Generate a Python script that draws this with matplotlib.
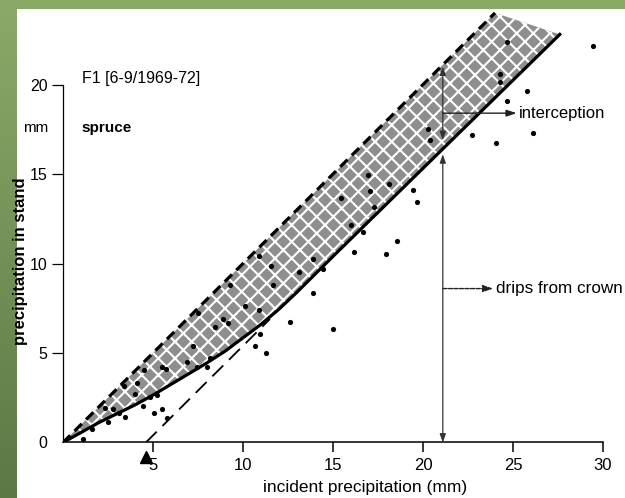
import numpy as np
import matplotlib
matplotlib.use("Agg")
import matplotlib.pyplot as plt
from matplotlib.patches import Rectangle, Polygon

plt.rcParams['font.family'] = ['Liberation Sans', 'DejaVu Sans']
plt.rcParams['hatch.linewidth'] = 1.5

# ---- data ----
incident = [1.13, 1.63, 2.52, 3.44, 3.13, 2.80, 2.33, 4.46, 5.07, 5.52, 5.76, 4.83, 5.20,
            4.00, 4.13, 3.39, 4.52, 5.48, 5.72, 6.87, 7.24, 7.43, 7.98, 8.17, 7.52, 8.44,
            8.91, 9.15, 9.28, 10.11, 10.67, 10.94, 11.28, 10.90, 11.65, 11.54, 10.89, 12.61,
            13.13, 13.91, 13.91, 14.46, 15.02, 15.43, 15.98, 16.65, 16.17, 16.96, 17.06, 17.28,
            18.13, 19.46, 19.68, 18.54, 17.94, 20.26, 20.39, 22.70, 24.06, 26.09, 24.65, 24.28,
            24.30, 29.46, 25.76, 24.65]
in_stand = [0.18, 0.74, 1.16, 1.44, 1.63, 1.85, 1.91, 2.04, 1.63, 1.85, 1.35, 2.56, 2.65,
            2.71, 3.34, 3.16, 4.05, 4.24, 4.09, 4.51, 5.39, 4.20, 4.24, 4.70, 7.22, 6.47,
            6.90, 6.66, 8.80, 7.63, 5.39, 6.06, 5.02, 7.40, 8.80, 9.86, 10.42, 6.75,
            9.54, 10.23, 8.37, 9.68, 6.32, 13.64, 12.15, 11.74, 10.63, 14.94, 14.07, 13.14,
            14.44, 14.11, 13.45, 11.26, 10.53, 17.51, 16.90, 17.18, 16.71, 17.31, 22.39, 20.60,
            20.16, 22.15, 19.64, 19.08]

upper_x = [0.0, 24.0]          # 1:1 line (no interception)
upper_y = [0.0, 24.0]
curve_x = [0, 2, 4, 5, 6, 7, 8, 9, 10, 11, 12, 13, 14, 15, 27.6]
curve_y = [0, 1.12, 2.10, 2.65, 3.25, 3.85, 4.45, 5.10, 5.85, 6.60, 7.45, 8.40, 9.40, 10.40, 22.8]
offset_x = [4.6, 11.5]         # parallel line starting at threshold
offset_y = [0.0, 6.9]
threshold = 4.6
arrow_x = 21.1
interc_lo, interc_hi = 16.9, 21.0
drip_lo, drip_hi = 0.0, 16.1

W, H = 625, 498
fig = plt.figure(figsize=(W / 100, H / 100), dpi=100)

# background frame (green border with gradient, white page)
bg = fig.add_axes([0, 0, 1, 1], zorder=-10)
bg.set_xlim(0, 1)
bg.set_ylim(0, 1)
bg.axis('off')
top_c = np.array([139, 170, 104]) / 255
bot_c = np.array([92, 120, 70]) / 255
t = np.linspace(0, 1, 256)[:, None]
grad = (top_c[None, :] * t + bot_c[None, :] * (1 - t))[:, None, :]
bg.imshow(grad, extent=[0, 1, 0, 1], aspect='auto', origin='lower')
bg.add_patch(Rectangle((17 / W, 0), 1, 1 - 9 / H, facecolor='white', edgecolor='none'))

ax = fig.add_axes([63 / W, 1 - 442.5 / H, 540 / W, 442.1 / H])
ax.patch.set_visible(False)
ax.set_xlim(0, 30)
ax.set_ylim(0, 24.7)

# hatched band (interception)
poly = list(zip(upper_x, upper_y)) + list(zip(curve_x[::-1], curve_y[::-1]))
ax.add_patch(Polygon(poly, closed=True, facecolor='#8e8e8e', edgecolor='white',
                     hatch='xx', linewidth=0, zorder=1))

ax.plot(upper_x, upper_y, color='black', lw=2.3, dashes=(3.2, 1.9), zorder=3,
        solid_capstyle='butt', dash_capstyle='butt')
ax.plot(curve_x, curve_y, color='black', lw=2.3, zorder=3)
ax.plot(offset_x, offset_y, color='black', lw=1.3, dashes=(8.5, 4.5), zorder=3)

ax.scatter(incident, in_stand, s=14, color='black', zorder=4, linewidths=0)

# threshold marker
ax.plot([threshold], [-0.8], marker='^', color='black', markersize=8, clip_on=False, zorder=5)

# vertical double arrows
ap = dict(arrowstyle='<|-|>,head_length=0.5,head_width=0.18', color='#333333', lw=0.9,
          shrinkA=0, shrinkB=0)
ax.annotate('', xy=(arrow_x, interc_hi), xytext=(arrow_x, interc_lo), arrowprops=ap, zorder=5)
ax.annotate('', xy=(arrow_x, drip_hi), xytext=(arrow_x, drip_lo), arrowprops=ap, zorder=5)

# horizontal pointers with labels
hp = dict(arrowstyle='-|>,head_length=0.6,head_width=0.2', color='#222222', lw=1.0,
          shrinkA=0, shrinkB=0)
ax.annotate('', xy=(25.2, 18.4), xytext=(arrow_x, 18.4), arrowprops=hp, zorder=5)
ax.text(25.35, 18.4, 'interception', fontsize=12, va='center', ha='left')
hp2 = dict(hp, linestyle=(0, (3, 1)))
ax.annotate('', xy=(23.9, 8.6), xytext=(arrow_x, 8.6), arrowprops=hp2, zorder=5)
ax.text(24.05, 8.6, 'drips from crown', fontsize=12.3, va='center', ha='left', clip_on=False)

# in-plot text
ax.text(1.05, 20.35, 'F1 [6-9/1969-72]', fontsize=11.5, va='center', ha='left')
ax.text(1.05, 17.55, 'spruce', fontsize=11, fontweight='bold', va='center', ha='left')
ax.text(-0.8, 17.55, 'mm', fontsize=11, va='center', ha='right')

# axes styling
for s in ('top', 'right'):
    ax.spines[s].set_visible(False)
ax.spines['left'].set_bounds(0, 20)
ax.spines['bottom'].set_bounds(0, 30)
ax.spines['left'].set_linewidth(0.9)
ax.spines['bottom'].set_linewidth(1.1)

ax.set_xticks([5, 10, 15, 20, 25, 30])
ax.set_yticks([0, 5, 10, 15, 20])
ax.tick_params(axis='x', direction='out', length=7, width=1.1, labelsize=12, pad=4)
ax.tick_params(axis='y', direction='out', length=8, width=0.9, labelsize=11.5, pad=3)
ax.yaxis.get_major_ticks()[0].tick1line.set_visible(False)

ax.set_xlabel('incident precipitation (mm)', fontsize=12.5, va='top')
ax.xaxis.set_label_coords(0.559, -0.085)
ax.set_ylabel('precipitation in stand', fontsize=12, fontweight='bold')
ax.yaxis.set_label_coords(-0.065, 0.41)

fig.savefig('out.png', dpi=100)
